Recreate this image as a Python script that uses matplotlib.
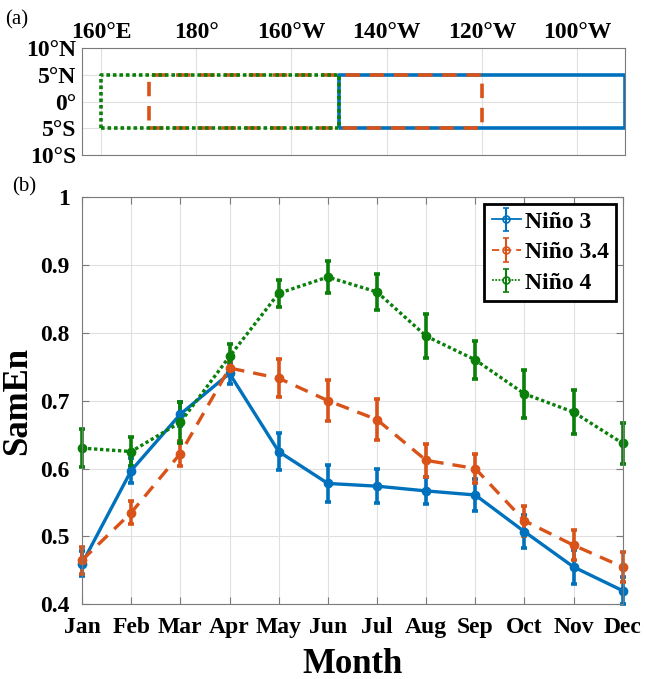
import matplotlib.pyplot as plt
import numpy as np

# Data
months = ['Jan', 'Feb', 'Mar', 'Apr', 'May', 'Jun', 'Jul', 'Aug', 'Sep', 'Oct', 'Nov', 'Dec']
nino3 = [0.460, 0.597, 0.680, 0.740, 0.625, 0.578, 0.574, 0.567, 0.561, 0.507, 0.455, 0.420]
nino3_err = [0.018, 0.018, 0.018, 0.016, 0.027, 0.027, 0.025, 0.020, 0.024, 0.024, 0.025, 0.020]
nino34 = [0.465, 0.535, 0.622, 0.748, 0.733, 0.700, 0.672, 0.612, 0.600, 0.523, 0.487, 0.455]
nino34_err = [0.020, 0.017, 0.018, 0.010, 0.028, 0.030, 0.030, 0.024, 0.021, 0.022, 0.022, 0.022]
nino4 = [0.630, 0.625, 0.668, 0.765, 0.858, 0.882, 0.860, 0.795, 0.760, 0.710, 0.683, 0.637]
nino4_err = [0.028, 0.022, 0.030, 0.018, 0.020, 0.023, 0.027, 0.032, 0.028, 0.035, 0.032, 0.030]

# Region boxes (lon east, lat)
box_nino3 = [210, 270, -5, 5]
box_nino34 = [170, 240, -5, 5]
box_nino4 = [160, 210, -5, 5]
lon_ticks = [160, 180, 200, 220, 240, 260]
lon_labels = ['160°E', '180°', '160°W', '140°W', '120°W', '100°W']
lat_ticks = [10, 5, 0, -5, -10]
lat_labels = ['10°N', '5°N', '0°', '5°S', '10°S']

BLUE = '#0072BD'
ORANGE = '#D95319'
GREEN = '#0A7F0A'
FONTSIZE = 17
plt.rcParams['font.family'] = 'Liberation Serif'
plt.rcParams['font.weight'] = 'bold'
plt.rcParams['xtick.labelsize'] = FONTSIZE
plt.rcParams['ytick.labelsize'] = FONTSIZE
plt.rcParams['xtick.direction'] = 'in'
plt.rcParams['ytick.direction'] = 'in'
plt.rcParams['axes.edgecolor'] = '#7a7a7a'

fig = plt.figure(figsize=(6.46, 6.79), dpi=100)
ax1 = fig.add_axes([0.127, 0.772, 0.840, 0.157])
ax2 = fig.add_axes([0.127, 0.110, 0.837, 0.600])


def draw_box(ax, b, **kw):
    x0, x1, y0, y1 = b
    ax.plot([x0, x1, x1, x0, x0], [y0, y0, y1, y1, y0], **kw)


draw_box(ax1, box_nino3, color=BLUE, lw=2.6, solid_capstyle='butt')
draw_box(ax1, box_nino34, color=ORANGE, lw=2.6, dashes=(4, 2.7))
draw_box(ax1, box_nino4, color=GREEN, lw=2.6, dashes=(1.0, 0.8))
ax1.set_xlim(156, 270)
ax1.set_ylim(-10, 10)
ax1.set_xticks(lon_ticks)
ax1.set_xticklabels(lon_labels)
ax1.set_yticks(lat_ticks)
ax1.set_yticklabels(lat_labels)
ax1.xaxis.tick_top()
ax1.tick_params(length=0, pad=4)
ax1.grid(True, color='#e0e0e0', lw=0.8)
fig.text(0.008, 0.985, '(a)', fontsize=15, fontweight='normal', va='top')

series = [(nino3, nino3_err, BLUE, '-', 'Niño 3'),
          (nino34, nino34_err, ORANGE, (0, (4, 2.7)), 'Niño 3.4'),
          (nino4, nino4_err, GREEN, (0, (1.0, 0.8)), 'Niño 4')]
x = np.arange(1, len(months) + 1)
proxies = []
for vals, err, col, ls, lab in series:
    eb = ax2.errorbar(x, vals, yerr=err, color=col, ls=ls, lw=2.4, marker='o',
                      ms=6, elinewidth=2.6, capsize=2.5, capthick=2.6)
    for art in eb.lines[:1] + eb.lines[1] + eb.lines[2]:
        art.set_clip_on(False)
    # thinner, hollow-marker handle for the legend
    pr = ax2.errorbar([np.nan], [np.nan], yerr=[np.nan], color=col, ls=ls,
                      lw=1.3, marker='o', ms=5, mfc='none', mew=1.2,
                      elinewidth=1.5, capsize=2.5, capthick=1.5, label=lab)
    proxies.append(pr)

ax2.set_xlim(1, 12)
ax2.set_ylim(0.4, 1.0)
ax2.set_xticks(x)
ax2.set_xticklabels(months)
ax2.set_yticks([0.4, 0.5, 0.6, 0.7, 0.8, 0.9, 1.0])
ax2.set_yticklabels(['0.4', '0.5', '0.6', '0.7', '0.8', '0.9', '1'])
ax2.tick_params(top=True, right=True, length=5, color='#7a7a7a')
ax2.tick_params(axis='x', pad=9)
ax2.tick_params(axis='y', pad=9)
ax2.grid(True, color='#e0e0e0', lw=0.8)
ax2.set_xlabel('Month', fontsize=25, fontweight='bold', labelpad=7)
ax2.set_ylabel('SamEn', fontsize=25, fontweight='bold', labelpad=4)
leg = ax2.legend(handles=proxies, loc='upper right', fontsize=FONTSIZE,
                 fancybox=False, framealpha=1, edgecolor='black',
                 borderpad=0.3, handlelength=1.25, handletextpad=0.15,
                 labelspacing=0.38, borderaxespad=0.3)
leg.get_frame().set_linewidth(2.0)
fig.text(0.018, 0.725, '(b)', fontsize=15, fontweight='normal', va='center')

fig.savefig('out.png', dpi=100)
